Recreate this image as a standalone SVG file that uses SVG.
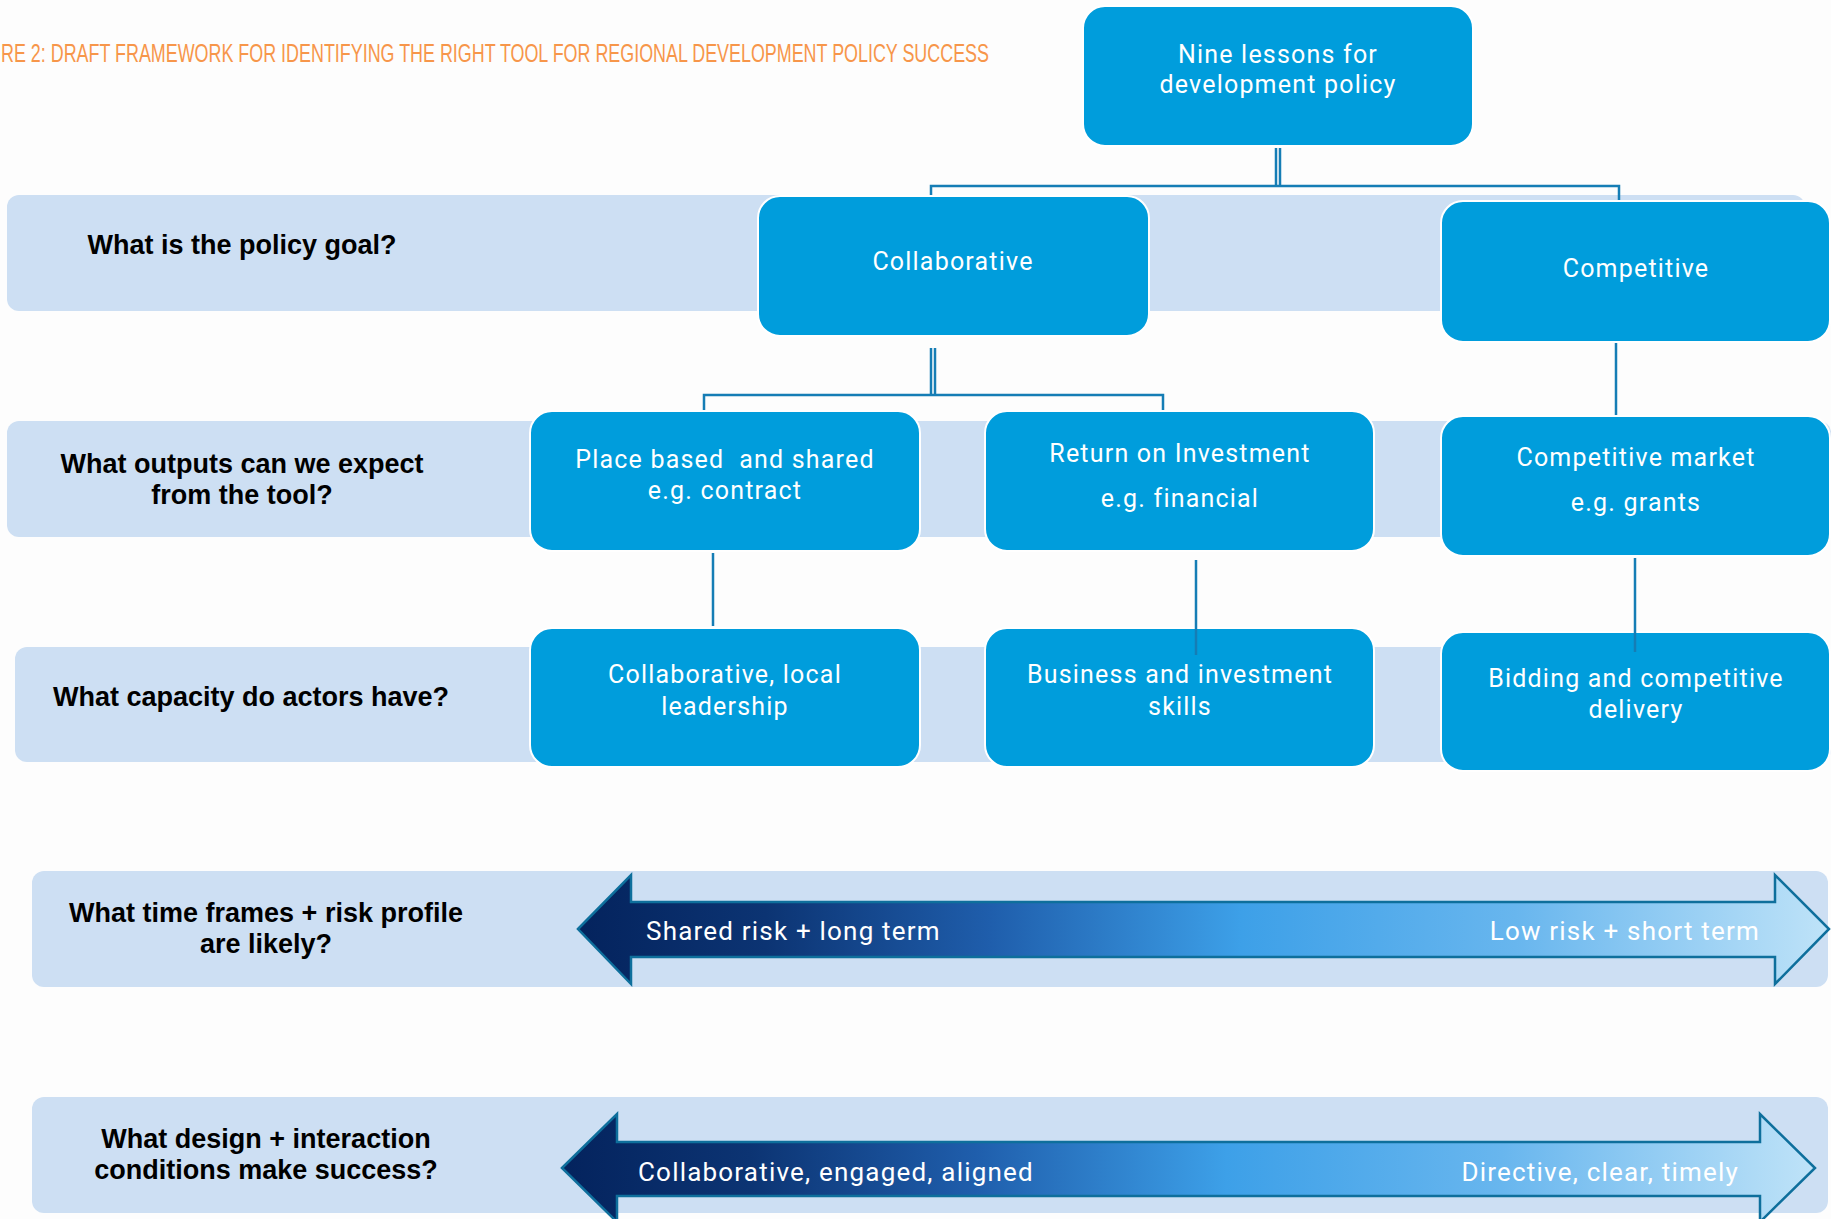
<svg xmlns="http://www.w3.org/2000/svg" width="1831" height="1219" viewBox="0 0 1831 1219">
  <defs>
    <style>
      .band { fill: #cddff3; }
      .box { fill: #009ddc; stroke: #ffffff; stroke-width: 2; }
      .boxtext { font-family: Roboto, "Noto Sans", sans-serif; font-size: 25px; letter-spacing: 1.2px; fill: #ffffff; text-anchor: middle; }
      .q { font-family: "Liberation Sans", Arial, sans-serif; font-weight: bold; font-size: 27px; fill: #000000; text-anchor: middle; }
      .arrowtext { font-family: Roboto, "Noto Sans", sans-serif; font-size: 26px; letter-spacing: 1.2px; fill: #ffffff; }
      .conn { stroke: #157db5; stroke-width: 2.5; fill: none; }
      .arrow { stroke: #0e6f9c; stroke-width: 2.5; stroke-linejoin: miter; }
      .title { font-family: "Liberation Sans", Arial, sans-serif; font-size: 26px; fill: #f7964a; }
    </style>
    <linearGradient id="scaleGrad" x1="0" y1="0" x2="1" y2="0">
      <stop offset="0" stop-color="#04235d"/>
      <stop offset="0.15" stop-color="#0c3473"/>
      <stop offset="0.33" stop-color="#1f5eac"/>
      <stop offset="0.53" stop-color="#3da0e8"/>
      <stop offset="0.75" stop-color="#68b6ee"/>
      <stop offset="1" stop-color="#bfe3f8"/>
    </linearGradient>
  </defs>

  <rect x="0" y="0" width="1831" height="1219" fill="#fdfdfd"/>

  <!-- condensed caption: horizontally scaled so it ends near x=989 -->
  <text class="title" transform="translate(1,62) scale(0.668,1)" x="0" y="0" textLength="1479" lengthAdjust="spacingAndGlyphs">RE 2: DRAFT FRAMEWORK FOR IDENTIFYING THE RIGHT TOOL FOR REGIONAL DEVELOPMENT POLICY SUCCESS</text>

  <!-- question rows (background bands) -->
  <g id="row-goal">
    <rect class="band" x="7" y="195" width="1798" height="116" rx="12"/>
    <text class="q" x="242" y="254">What is the policy goal?</text>
  </g>
  <g id="row-outputs">
    <rect class="band" x="7" y="421" width="1824" height="116" rx="12"/>
    <text class="q" x="242" y="473">What outputs can we expect<tspan x="242" dy="31">from the tool?</tspan></text>
  </g>
  <g id="row-capacity">
    <rect class="band" x="15" y="647" width="1816" height="115" rx="12"/>
    <text class="q" x="251" y="706">What capacity do actors have?</text>
  </g>
  <g id="row-timeframes">
    <rect class="band" x="32" y="871" width="1796" height="116" rx="12"/>
    <text class="q" x="266" y="922">What time frames + risk profile<tspan x="266" dy="31">are likely?</tspan></text>
  </g>
  <g id="row-design">
    <rect class="band" x="32" y="1097" width="1796" height="116" rx="12"/>
    <text class="q" x="266" y="1148">What design + interaction<tspan x="266" dy="31">conditions make success?</tspan></text>
  </g>

  <!-- connectors -->
  <g id="connectors">
    <line class="conn" x1="1276" y1="148" x2="1276" y2="186"/>
    <line class="conn" x1="1280" y1="148" x2="1280" y2="186"/>
    <polyline class="conn" points="931,196 931,186 1619,186 1619,201"/>
    <line class="conn" x1="931" y1="348" x2="931" y2="395"/>
    <line class="conn" x1="935" y1="348" x2="935" y2="395"/>
    <polyline class="conn" points="704,411 704,395 1163,395 1163,411"/>
    <line class="conn" x1="1616" y1="342" x2="1616" y2="416"/>
    <line class="conn" x1="713" y1="553" x2="713" y2="626"/>
  </g>

  <!-- nodes -->
  <g id="node-lessons">
    <rect class="box" x="1083" y="6" width="390" height="140" rx="22"/>
    <text class="boxtext" x="1278" y="63">Nine lessons for<tspan x="1278" dy="30">development policy</tspan></text>
  </g>
  <g id="node-collaborative">
    <rect class="box" x="758" y="196" width="391" height="140" rx="22"/>
    <text class="boxtext" x="953" y="270">Collaborative</text>
  </g>
  <g id="node-competitive">
    <rect class="box" x="1441" y="201" width="389" height="141" rx="22"/>
    <text class="boxtext" x="1636" y="277">Competitive</text>
  </g>
  <g id="node-place-based">
    <rect class="box" x="530" y="411" width="390" height="140" rx="22"/>
    <text class="boxtext" x="725" y="468" style="white-space:pre">Place based  and shared<tspan x="725" dy="31">e.g. contract</tspan></text>
  </g>
  <g id="node-return">
    <rect class="box" x="985" y="411" width="389" height="140" rx="22"/>
    <text class="boxtext" x="1180" y="462">Return on Investment<tspan x="1180" dy="45">e.g. financial</tspan></text>
  </g>
  <g id="node-market">
    <rect class="box" x="1441" y="416" width="389" height="140" rx="22"/>
    <text class="boxtext" x="1636" y="466">Competitive market<tspan x="1636" dy="45">e.g. grants</tspan></text>
  </g>
  <g id="node-local-leadership">
    <rect class="box" x="530" y="628" width="390" height="139" rx="22"/>
    <text class="boxtext" x="725" y="683">Collaborative, local<tspan x="725" dy="32">leadership</tspan></text>
  </g>
  <g id="node-business">
    <rect class="box" x="985" y="628" width="389" height="139" rx="22"/>
    <text class="boxtext" x="1180" y="683">Business and investment<tspan x="1180" dy="32">skills</tspan></text>
  </g>
  <g id="node-bidding">
    <rect class="box" x="1441" y="632" width="389" height="139" rx="22"/>
    <text class="boxtext" x="1636" y="687">Bidding and competitive<tspan x="1636" dy="31">delivery</tspan></text>
  </g>

  <!-- connectors drawn over box edges -->
  <g id="connectors-over">
    <line class="conn" x1="1196" y1="560" x2="1196" y2="655"/>
    <line class="conn" x1="1635" y1="558" x2="1635" y2="652"/>
  </g>

  <!-- double-headed scale arrows -->
  <g id="arrow-risk">
    <polygon class="arrow" fill="url(#scaleGrad)" points="578,929 631,875 631,902 1775,902 1775,875 1829,929 1775,984 1775,957 631,957 631,984"/>
    <text class="arrowtext" x="646" y="940">Shared risk + long term</text>
    <text class="arrowtext" x="1760" y="940" text-anchor="end">Low risk + short term</text>
  </g>
  <g id="arrow-design">
    <polygon class="arrow" fill="url(#scaleGrad)" points="562,1168 617,1114 617,1142 1760,1142 1760,1114 1815,1168 1760,1222 1760,1196 617,1196 617,1222"/>
    <text class="arrowtext" x="638" y="1181">Collaborative, engaged, aligned</text>
    <text class="arrowtext" x="1739" y="1181" text-anchor="end">Directive, clear, timely</text>
  </g>
</svg>
